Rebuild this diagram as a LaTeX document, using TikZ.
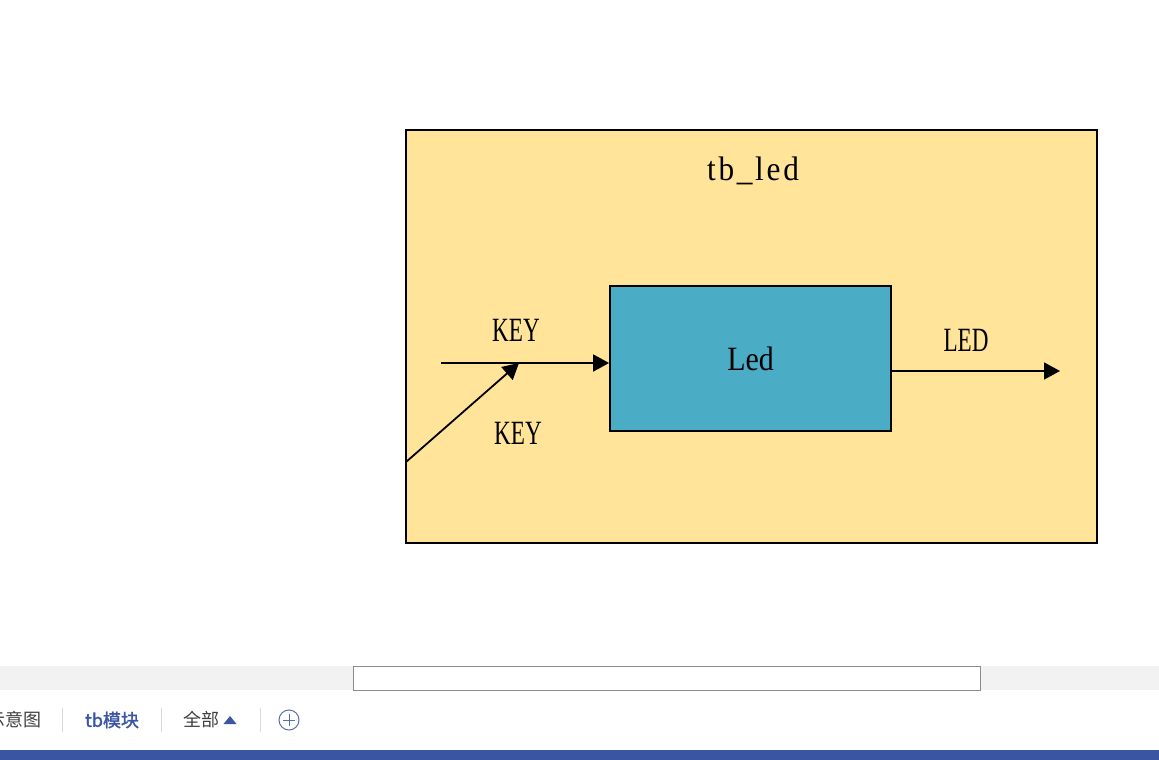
\documentclass[tikz,border=0pt]{standalone}
\usepackage{fontspec}
\usetikzlibrary{arrows.meta}
\newfontfamily\diafont[FakeStretch=0.68]{Liberation Serif}
\newfontfamily\wordfont[FakeStretch=0.88]{Liberation Serif}
\newfontfamily\titlefont[FakeStretch=0.92,LetterSpace=8]{Liberation Serif}
\newfontfamily\cjk{Noto Sans CJK SC}
\newfontfamily\cjkbold[FakeBold=1.6]{Noto Sans CJK SC}
\definecolor{pale}{HTML}{FFE499}
\definecolor{teal}{HTML}{4BACC6}
\definecolor{band}{HTML}{3A55A2}
\definecolor{tabgray}{HTML}{F2F2F2}
\begin{document}
\begin{tikzpicture}[x=1pt,y=-1pt,
  lbl/.style={font=\diafont\fontsize{34}{34}\selectfont},
  conn/.style={line width=1.8pt,-{Triangle[length=16pt,width=17pt]}},
  tab/.style={font=\cjk\fontsize{18}{18}\selectfont,text=black!75},
  sep/.style={draw=black!15,line width=1pt}]
\clip (0,0) rectangle (1159,760);
\fill[white] (0,0) rectangle (1159,760);
\node [draw,line width=1.8pt,fill=pale,minimum width=691pt,minimum height=413pt,inner sep=0] (frame) at (751.5,336.5) {};
\node [font=\titlefont\fontsize{34}{34}\selectfont] (title) at (753,171) {tb\_led};
\node [draw,line width=1.8pt,fill=teal,minimum width=281pt,minimum height=145pt,inner sep=0,font=\wordfont\fontsize{34}{34}\selectfont] (led) at (750.5,358.5) {Led};
\coordinate (keyin) at (441,363);
\coordinate (corner) at (406,462);
\coordinate (join) at (519,363);
\coordinate (ledout) at (1060,371);
\draw [conn] (keyin) -- (led.west |- keyin);
\draw [conn] (corner) -- (join);
\draw [conn] (led.east |- ledout) -- (ledout);
\node [lbl] (keyup) at (516,330) {KEY};
\node [lbl] (keydown) at (518,433) {KEY};
\node [lbl] (ledlbl) at (966,340) {LED};
\fill [tabgray] (0,666) rectangle (1159,690);
\draw [black!45,fill=white,line width=1pt] (353.5,666.5) rectangle (980.5,690.5);
\node [tab,anchor=east] (tabdia) at (45,720) {示意图};
\draw [sep] (62,708) -- (62,732);
\node [font=\cjkbold\fontsize{18}{18}\selectfont,text=band] (tabtb) at (112,720) {tb模块};
\draw [sep] (161,708) -- (161,732);
\node [tab] (taball) at (201,720) {全部};
\fill [band] (223.5,724) -- (236.5,724) -- (230,716) -- cycle;
\draw [sep] (260,708) -- (260,732);
\draw [band!85,line width=1pt] (289,720) circle (10);
\draw [band!85,line width=1pt] (283,720) -- (295,720) (289,714) -- (289,726);
\fill [band] (0,750) rectangle (1159,760);
\end{tikzpicture}
\end{document}
